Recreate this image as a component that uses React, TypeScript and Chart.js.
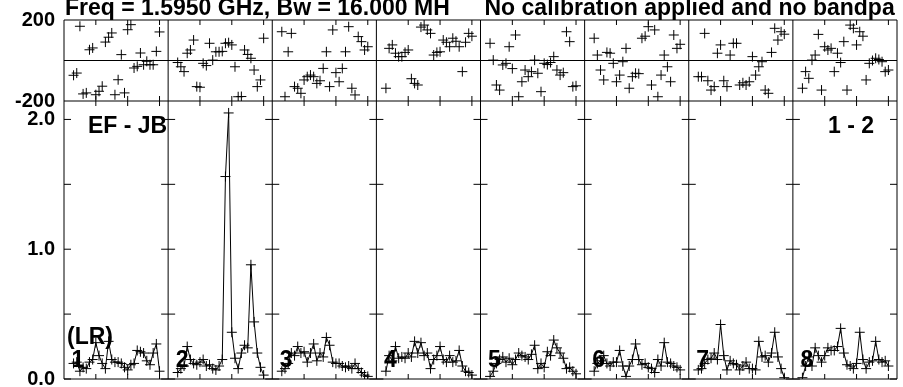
import React, { useEffect, useRef } from 'react';
import { Chart, registerables } from 'chart.js';

Chart.register(...registerables);

const TITLE_LEFT = 'Freq = 1.5950 GHz, Bw = 16.000 MH';
const TITLE_RIGHT = 'No calibration applied and no bandpa';
const BASELINE_LABEL = 'EF - JB';
const SOURCE_LABEL = '1 - 2';
const POL_LABEL = '(LR)';
const PANEL_LABELS = ['1', '2', '3', '4', '5', '6', '7', '8'];

const CHANNELS = [3, 4, 5, 6, 7, 8, 9, 10, 11, 12, 13, 14, 15, 16, 17, 18, 19, 20, 21, 22, 23, 24, 25, 26, 27, 28, 29, 30];
const PANEL_SPAN = 32.7;
const X_TICKS = [10, 20, 30];
const AMP_LABEL_TICKS = [0, 1, 2];
const AMP_MINOR_TICKS = [0, 0.5, 1, 1.5, 2];
const PHASE_TICKS = [-200, 200];
const AMP_MAX = 2.142;

const AMP_1 = [0.12, 0.13, 0.06, 0.09, 0.08, 0.13, 0.15, 0.28, 0.18, 0.12, 0.08, 0.29, 0.15, 0.13, 0.13, 0.12, 0.09, 0.07, 0.11, 0.12, 0.22, 0.21, 0.2, 0.14, 0.11, 0.2, 0.27, 0.06];
const AMP_2 = [0.05, 0.08, 0.1, 0.25, 0.15, 0.12, 0.11, 0.13, 0.15, 0.1, 0.11, 0.08, 0.07, 0.1, 0.15, 1.56, 2.05, 0.36, 0.16, 0.08, 0.2, 0.26, 0.24, 0.88, 0.44, 0.2, 0.09, 0.03];
const AMP_3 = [0.06, 0.08, 0.12, 0.2, 0.18, 0.25, 0.2, 0.21, 0.13, 0.2, 0.27, 0.14, 0.2, 0.17, 0.32, 0.26, 0.13, 0.12, 0.12, 0.1, 0.09, 0.1, 0.08, 0.12, 0.08, 0.05, 0.03, 0.02];
const AMP_4 = [0.06, 0.18, 0.14, 0.25, 0.16, 0.17, 0.16, 0.2, 0.17, 0.29, 0.2, 0.28, 0.18, 0.2, 0.08, 0.15, 0.18, 0.25, 0.15, 0.13, 0.18, 0.13, 0.14, 0.22, 0.1, 0.06, 0.05, 0.03];
const AMP_5 = [0.02, 0.06, 0.12, 0.15, 0.17, 0.13, 0.16, 0.11, 0.15, 0.2, 0.18, 0.17, 0.15, 0.19, 0.26, 0.08, 0.12, 0.09, 0.21, 0.18, 0.3, 0.24, 0.2, 0.16, 0.08, 0.09, 0.06, 0.04];
const AMP_6 = [0.06, 0.12, 0.14, 0.18, 0.12, 0.1, 0.13, 0.13, 0.22, 0.1, 0.02, 0.1, 0.15, 0.27, 0.15, 0.11, 0.12, 0.09, 0.08, 0.05, 0.15, 0.1, 0.28, 0.13, 0.12, 0.1, 0.09, 0.07];
const AMP_7 = [0.07, 0.08, 0.12, 0.15, 0.16, 0.2, 0.15, 0.42, 0.18, 0.07, 0.14, 0.12, 0.11, 0.07, 0.1, 0.13, 0.08, 0.08, 0.07, 0.29, 0.17, 0.18, 0.13, 0.2, 0.36, 0.17, 0.08, 0.01];
const AMP_8 = [0.01, 0.1, 0.17, 0.1, 0.24, 0.18, 0.13, 0.18, 0.24, 0.22, 0.22, 0.25, 0.39, 0.2, 0.11, 0.1, 0.08, 0.12, 0.36, 0.15, 0.08, 0.13, 0.14, 0.29, 0.15, 0.13, 0.14, 0.1];

const PHASE_1 = [-73, -62, 169, -165, -160, 53, 62, -169, -152, -127, 91, 115, 136, -169, -95, 29, -160, 152, 177, -37, -29, 37, -21, -4, -21, -21, 45, 141];
const PHASE_2 = [-10, -31, -55, 36, 52, 101, -129, -132, -14, -25, 85, 2, 43, 43, 45, 85, 88, 77, -31, -179, -178, 52, 30, 11, -47, -129, -96, 110];
const PHASE_3 = [142, -179, 43, 134, -129, -137, -162, -96, -80, -72, -80, -113, -100, -39, 43, -129, 151, -60, -105, -39, 43, 167, -137, -170, 118, 93, 52, 68];
const PHASE_4 = [-137, 60, 77, 36, 19, 19, 40, 52, -90, -113, -121, 165, 175, 151, 134, 27, 40, 43, 101, 90, 68, 110, 95, 68, -55, 90, 134, 120];
const PHASE_5 = [85, 2, -121, -146, -22, -14, 68, -40, 126, -179, -105, -47, -80, -55, 2, -63, -154, -14, -20, -10, 19, -47, -72, -60, 142, 93, -129, -125];
const PHASE_6 = [110, 27, -47, -96, 40, 36, -14, -105, -72, -6, 60, -137, -80, -63, -65, 110, 120, 167, -121, 151, -179, -72, 27, -31, -105, 126, 60, 80];
const PHASE_7 = [-80, -80, 134, -100, -146, -129, 36, 77, -100, -129, 27, 85, 85, -121, -110, -121, -105, 19, -72, -31, -6, -146, -162, 40, 159, 101, 142, 130];
const PHASE_8 = [-137, -55, -88, 2, 27, 129, -146, 68, 52, 60, -55, 36, -10, 93, -146, 175, 159, 77, 142, 120, -96, -14, 0, 11, 5, -6, -55, -47];

const AMP_SERIES = [AMP_1, AMP_2, AMP_3, AMP_4, AMP_5, AMP_6, AMP_7, AMP_8];
const PHASE_SERIES = [PHASE_1, PHASE_2, PHASE_3, PHASE_4, PHASE_5, PHASE_6, PHASE_7, PHASE_8];

const LABEL_FONT = 'bold 23px "Liberation Sans", Arial, sans-serif';
const TICK_FONT = { family: '"Liberation Sans", Arial, sans-serif', weight: 'bold' as const, size: 20 };

const framePlugin = {
  id: 'aipsFrame',
  beforeDatasetsDraw(chart: any) {
    const { ctx, chartArea: ca, scales } = chart;
    const xs = scales.x;
    const ya = scales.yAmp;
    const yp = scales.yPhase;
    const top = yp.top;
    const mid = ya.top;
    const bottom = ya.bottom;
    const nPanels = PANEL_LABELS.length;
    ctx.save();
    ctx.strokeStyle = '#000';
    ctx.lineWidth = 1;
    ctx.beginPath();
    ctx.rect(ca.left, ca.top, ca.right - ca.left, ca.bottom - ca.top);
    ctx.moveTo(ca.left, mid);
    ctx.lineTo(ca.right, mid);
    const y0 = yp.getPixelForValue(0);
    ctx.moveTo(ca.left, y0);
    ctx.lineTo(ca.right, y0);
    for (let k = 1; k < nPanels; k++) {
      const px = xs.getPixelForValue(k * PANEL_SPAN);
      ctx.moveTo(px, top);
      ctx.lineTo(px, bottom);
    }
    for (let k = 0; k < nPanels; k++) {
      for (const t of X_TICKS) {
        const px = xs.getPixelForValue(k * PANEL_SPAN + t);
        ctx.moveTo(px, top);
        ctx.lineTo(px, top + 5);
        ctx.moveTo(px, mid - 5);
        ctx.lineTo(px, mid + 5);
        ctx.moveTo(px, bottom);
        ctx.lineTo(px, bottom - 5);
      }
    }
    for (let k = 0; k <= nPanels; k++) {
      const px = xs.getPixelForValue(k * PANEL_SPAN);
      for (const v of AMP_MINOR_TICKS) {
        const py = ya.getPixelForValue(v);
        ctx.moveTo(Math.max(px - 7, ca.left), py);
        ctx.lineTo(Math.min(px + 7, ca.right), py);
      }
    }
    ctx.stroke();
    ctx.restore();
  },
  afterDatasetsDraw(chart: any) {
    const { ctx, chartArea: ca, scales } = chart;
    const xs = scales.x;
    const ya = scales.yAmp;
    ctx.save();
    ctx.fillStyle = '#000';
    ctx.font = LABEL_FONT;
    ctx.textBaseline = 'alphabetic';
    ctx.textAlign = 'left';
    ctx.fillText(TITLE_LEFT, ca.left + 1, 15);
    ctx.fillText(TITLE_RIGHT, xs.getPixelForValue(4 * PANEL_SPAN) + 4, 15);
    const y2 = ya.getPixelForValue(2);
    ctx.fillText(BASELINE_LABEL, ca.left + 24, y2 + 14);
    ctx.textAlign = 'right';
    ctx.fillText(SOURCE_LABEL, ca.right - 23, y2 + 14);
    ctx.textAlign = 'left';
    const yz = ya.getPixelForValue(0);
    ctx.fillText(POL_LABEL, ca.left + 3, yz - 35);
    PANEL_LABELS.forEach((lab, k) => {
      ctx.fillText(lab, xs.getPixelForValue(k * PANEL_SPAN) + 7.5, yz - 12);
    });
    ctx.restore();
  },
};

export default function App() {
  const ref = useRef<HTMLCanvasElement | null>(null);
  useEffect(() => {
    if (!ref.current) return;
    const datasets: any[] = [];
    AMP_SERIES.forEach((arr, k) => {
      datasets.push({
        label: 'Amplitude ' + PANEL_LABELS[k],
        data: CHANNELS.map((c, i) => ({ x: k * PANEL_SPAN + c, y: arr[i] })),
        yAxisID: 'yAmp',
        xAxisID: 'x',
        borderColor: '#000',
        borderWidth: 1,
        showLine: true,
        pointStyle: 'cross',
        pointRadius: 5,
        pointBorderColor: '#000',
        pointBorderWidth: 1,
        fill: false,
        tension: 0,
      });
    });
    PHASE_SERIES.forEach((arr, k) => {
      datasets.push({
        label: 'Phase ' + PANEL_LABELS[k],
        data: CHANNELS.map((c, i) => ({ x: k * PANEL_SPAN + c, y: arr[i] })),
        yAxisID: 'yPhase',
        xAxisID: 'x',
        borderColor: '#000',
        borderWidth: 1,
        showLine: false,
        pointStyle: 'cross',
        pointRadius: 5,
        pointBorderColor: '#000',
        pointBorderWidth: 1,
        fill: false,
      });
    });
    const chart = new Chart(ref.current, {
      type: 'line',
      data: { datasets },
      plugins: [framePlugin],
      options: {
        animation: false,
        responsive: false,
        devicePixelRatio: 1,
        events: [],
        layout: { padding: { top: 20, bottom: 8, left: 0, right: 2 } },
        plugins: { legend: { display: false }, tooltip: { enabled: false }, title: { display: false } },
        scales: {
          x: { type: 'linear', min: 0, max: PANEL_LABELS.length * PANEL_SPAN, display: false },
          yAmp: {
            type: 'linear',
            position: 'left',
            stack: 'main',
            stackWeight: 278,
            min: 0,
            max: AMP_MAX,
            afterBuildTicks: (s: any) => {
              s.ticks = AMP_LABEL_TICKS.map((v) => ({ value: v }));
            },
            afterFit: (s: any) => {
              s.width = 64;
              s.paddingTop = 0;
              s.paddingBottom = 0;
            },
            ticks: {
              callback: (v: any) => Number(v).toFixed(1),
              font: TICK_FONT,
              color: '#000',
              padding: 9,
              autoSkip: false,
              maxRotation: 0,
            },
            grid: { display: false, drawTicks: false },
            border: { display: false },
          },
          yPhase: {
            type: 'linear',
            position: 'left',
            stack: 'main',
            stackWeight: 81,
            min: -200,
            max: 200,
            afterBuildTicks: (s: any) => {
              s.ticks = PHASE_TICKS.map((v) => ({ value: v }));
            },
            afterFit: (s: any) => {
              s.width = 64;
              s.paddingTop = 0;
              s.paddingBottom = 0;
            },
            ticks: {
              callback: (v: any) => String(v),
              font: TICK_FONT,
              color: '#000',
              padding: 9,
              autoSkip: false,
              maxRotation: 0,
            },
            grid: { display: false, drawTicks: false },
            border: { display: false },
          },
        },
      } as any,
    });
    return () => chart.destroy();
  }, []);
  return (
    <div style={{ position: 'absolute', left: 0, top: 0, width: 903, height: 387, background: '#fff' }}>
      <canvas ref={ref} width={903} height={387} style={{ display: 'block' }} />
    </div>
  );
}
